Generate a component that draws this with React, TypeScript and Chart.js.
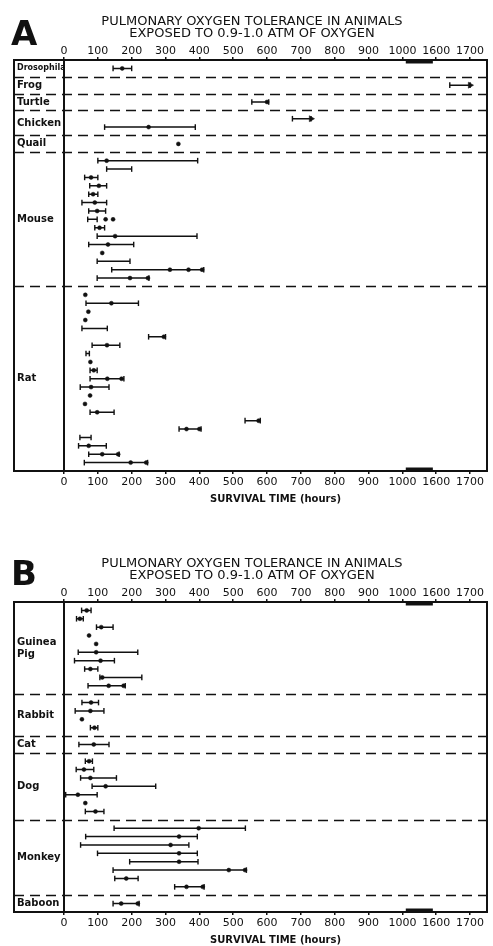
import React, { useEffect, useRef } from 'react';
import { Chart, registerables } from 'chart.js';

Chart.register(...registerables);

const INK = '#111';
const FONT = '"DejaVu Sans", sans-serif';

const TITLE_LINES = ['PULMONARY OXYGEN TOLERANCE IN ANIMALS', 'EXPOSED TO 0.9-1.0 ATM OF OXYGEN'];
const X_TITLE = 'SURVIVAL TIME (hours)';
// tick labels of the broken time axis (1000 -> 1600 is a break)
const xTickLabels = [0, 100, 200, 300, 400, 500, 600, 700, 800, 900, 1000, 1600, 1700];
const BREAK_FROM = 1000;
const BREAK_GAP = 500;

// ---------- Panel A ----------
const groupsA = ['Drosophila', 'Frog', 'Turtle', 'Chicken', 'Quail', 'Mouse', 'Rat'];
const groupSizesA = [1, 1, 1, 2, 1, 15, 21];
const lowA = [
  145, 1640, 555, 675, 120, null,
  100, 126, 61, 76, 73, 53, 73, 70, 91, 98, 73, null, 98, 141, 98,
  null, 65, null, null, 53, 250, 83, 65, null, 77, 77, 48, null, null, 77, 535, 340, 47, 43, 73, 60,
];
const highA = [
  200, 1700, 605, 730, 388, null,
  395, 200, 100, 126, 100, 126, 123, 98, 120, 393, 206, null, 195, 413, 251,
  null, 220, null, null, 128, 300, 165, 75, null, 98, 177, 133, null, null, 148, 580, 405, 80, 125, 163, 247,
];
const marksA = [
  [172], [], [600], [], [250], [338],
  [126], [], [80], [103], [86], [91], [98], [123, 145], [105], [151], [130], [113], [], [313, 368, 408], [195, 248],
  [63], [140], [72], [63], [], [295], [127], [], [78], [88], [128, 170], [80], [77], [62], [98], [575], [362, 400], [], [73], [113, 160], [197, 243],
];
const arrowRowsA = [1, 3];

// ---------- Panel B ----------
const groupsB = ['Guinea Pig', 'Rabbit', 'Cat', 'Dog', 'Monkey', 'Baboon'];
const groupSizesB = [10, 4, 1, 7, 8, 1];
const lowB = [
  52, 37, 96, null, null, 42, 31, 61, 106, 71,
  53, 33, null, 78,
  44,
  63, 36, 49, 83, 5, null, 63,
  148, 64, 49, 99, 194, 145, 150, 327,
  145,
];
const highB = [
  80, 57, 145, null, null, 218, 149, 100, 230, 181,
  102, 118, null, 100,
  133,
  84, 88, 155, 271, 98, null, 118,
  536, 394, 369, 394, 396, 539, 219, 414,
  222,
];
const marksB = [
  [67], [47], [110], [74], [95], [95], [108], [78], [113], [132, 176],
  [80], [78], [53], [90],
  [88],
  [74], [59], [78], [123], [41], [63], [93],
  [398], [340], [315], [340], [340], [487, 535], [184], [362, 410],
  [169, 218],
];
const arrowRowsB: number[] = [];

const toAxis = (v: number) => (v > BREAK_FROM ? v - BREAK_GAP : v);

function layoutRows(sizes: number[]) {
  const rowsY: number[] = [];
  const centers: number[] = [];
  const bounds: number[] = [];
  let s = 0;
  sizes.forEach((n, g) => {
    for (let i = 0; i < n; i++) rowsY.push(s + 1 + i);
    centers.push(s + (n + 1) / 2);
    s += n + 1;
    if (g < sizes.length - 1) bounds.push(s);
  });
  return { rowsY, centers, bounds, total: s };
}

const framePlugin = {
  id: 'frame',
  afterDraw(chart: any, _args: any, opts: any) {
    const { ctx, chartArea: ca, scales } = chart;
    const y = scales.y;
    const x = scales.x;
    const left = ca.left - 50;
    ctx.save();
    ctx.strokeStyle = INK;
    ctx.lineWidth = 1.6;
    ctx.setLineDash([10, 6]);
    (opts.bounds || []).forEach((b: number) => {
      const py = Math.round(y.getPixelForValue(b)) + 0.5;
      ctx.beginPath();
      ctx.moveTo(left, py);
      ctx.lineTo(ca.right, py);
      ctx.stroke();
    });
    ctx.setLineDash([]);
    ctx.lineWidth = 2;
    ctx.strokeRect(left, ca.top, ca.right - left, ca.bottom - ca.top);
    ctx.lineWidth = 3;
    [ca.top + 2, ca.bottom - 2].forEach((py: number) => {
      ctx.beginPath();
      ctx.moveTo(x.getPixelForValue(1010), py);
      ctx.lineTo(x.getPixelForValue(1090), py);
      ctx.stroke();
    });
    ctx.fillStyle = INK;
    ctx.font = 'bold 34px ' + FONT;
    ctx.textBaseline = 'alphabetic';
    ctx.textAlign = 'left';
    ctx.fillText(opts.letter, 11, opts.letterBaseline);
    ctx.restore();
  },
};

function makeConfig(p: any) {
  const { rowsY, centers, bounds, total } = layoutRows(p.sizes);
  const rangeData: any[] = [];
  p.low.forEach((lo: number | null, i: number) => {
    const hi = p.high[i];
    if (lo == null || hi == null) return;
    rangeData.push({ x: toAxis(lo), y: rowsY[i] });
    rangeData.push({ x: toAxis(hi), y: rowsY[i] });
    rangeData.push({ x: null, y: null });
  });
  const markData: any[] = [];
  p.marks.forEach((ms: number[], i: number) => ms.forEach((m) => markData.push({ x: toAxis(m), y: rowsY[i] })));
  const arrowData = p.arrows.map((r: number) => ({ x: toAxis(p.high[r]), y: rowsY[r] }));

  const xCommon: any = {
    type: 'linear',
    min: 0,
    max: 1250,
    afterBuildTicks: (s: any) => {
      s.ticks = xTickLabels.map((v) => ({ value: toAxis(v) }));
    },
    ticks: {
      callback: (_v: any, i: number) => String(xTickLabels[i]),
      font: { family: FONT, size: 11, lineHeight: 1 },
      color: INK,
      padding: 0,
      maxRotation: 0,
      autoSkip: false,
    },
    grid: { display: true, drawOnChartArea: false, drawTicks: true, tickLength: 3, color: INK, lineWidth: 1.5 },
    border: { display: false },
  };

  return {
    type: 'scatter',
    data: {
      datasets: [
        {
          data: rangeData,
          showLine: true,
          spanGaps: false,
          borderColor: INK,
          borderWidth: 1.5,
          pointStyle: 'line',
          rotation: 90,
          pointRadius: 2.8,
          pointBorderColor: INK,
          pointBorderWidth: 1.4,
          pointHoverRadius: 2.8,
        },
        {
          data: arrowData,
          showLine: false,
          pointStyle: 'triangle',
          rotation: 90,
          pointRadius: 3.5,
          backgroundColor: INK,
          borderColor: INK,
          pointBorderWidth: 0.5,
        },
        {
          data: markData,
          showLine: false,
          pointStyle: 'circle',
          pointRadius: 2,
          backgroundColor: INK,
          borderColor: INK,
          pointBorderWidth: 0.5,
        },
      ],
    },
    options: {
      animation: false,
      responsive: false,
      events: [],
      layout: { padding: { left: 17, right: 6, top: 0, bottom: p.bottomPad } },
      plugins: {
        legend: { display: false },
        tooltip: { enabled: false },
        title: {
          display: true,
          text: TITLE_LINES,
          color: INK,
          font: { family: FONT, size: 13, lineHeight: 0.9, weight: 'normal' },
          padding: { top: p.titleTop, bottom: 6.6 },
        },
        frame: { bounds, letter: p.letter, letterBaseline: p.letterBaseline },
      },
      scales: {
        x: {
          ...xCommon,
          position: 'bottom',
          ticks: { ...xCommon.ticks, padding: 3 },
          title: {
            display: true,
            text: X_TITLE,
            color: INK,
            font: { family: FONT, size: 10, weight: 'bold', lineHeight: 1.2 },
            padding: { top: 2, bottom: 0 },
          },
        },
        x2: { ...xCommon, position: 'top' },
        y: {
          type: 'linear',
          reverse: true,
          min: 0,
          max: total,
          afterFit: (s: any) => {
            s.width = 47;
          },
          afterBuildTicks: (s: any) => {
            s.ticks = centers.map((v) => ({ value: v }));
          },
          ticks: {
            autoSkip: false,
            crossAlign: 'far',
            padding: 0,
            color: INK,
            font: (c: any) => {
              const name = p.groups[c.index] || '';
              return { family: FONT, weight: 'bold', size: name.length > 8 && !name.includes(' ') ? 8 : 10, lineHeight: 1.2 };
            },
            callback: (_v: any, i: number) => {
              const name = p.groups[i] || '';
              return name.includes(' ') ? name.split(' ') : name;
            },
          },
          grid: { display: false },
          border: { display: true, color: INK, width: 2 },
        },
      },
    },
    plugins: [framePlugin],
  };
}

const panelA = {
  groups: groupsA, sizes: groupSizesA, low: lowA, high: highA, marks: marksA, arrows: arrowRowsA,
  letter: 'A', letterBaseline: 45, titleTop: 16, bottomPad: 15,
};
const panelB = {
  groups: groupsB, sizes: groupSizesB, low: lowB, high: highB, marks: marksB, arrows: arrowRowsB,
  letter: 'B', letterBaseline: 65, titleTop: 38, bottomPad: 0,
};

function PanelChart({ panel, height }: { panel: any; height: number }) {
  const ref = useRef<HTMLCanvasElement | null>(null);
  useEffect(() => {
    if (!ref.current) return;
    const chart = new Chart(ref.current, makeConfig(panel) as any);
    return () => chart.destroy();
  }, [panel]);
  return <canvas ref={ref} width={493} height={height} style={{ display: 'block', width: 493, height }} />;
}

export default function App() {
  return (
    <div style={{ position: 'absolute', left: 0, top: 0, width: 493, height: 946, background: '#fff' }}>
      <PanelChart panel={panelA} height={520} />
      <PanelChart panel={panelB} height={426} />
    </div>
  );
}
